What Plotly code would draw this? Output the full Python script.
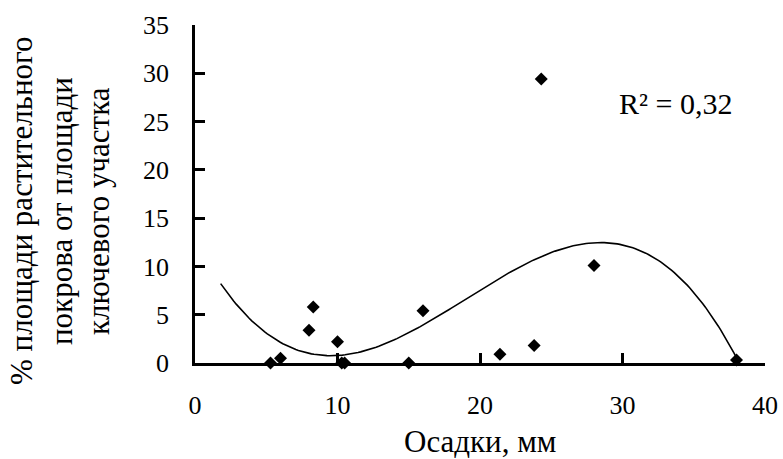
import numpy as np
import plotly.graph_objects as go

# Data
precip_mm = [5.3, 6.0, 8.0, 8.3, 10.0, 10.3, 10.5, 15.0, 16.0, 21.4, 23.8, 24.3, 28.0, 38.0]
veg_pct = [0.0, 0.5, 3.4, 5.8, 2.2, 0.0, 0.0, 0.0, 5.4, 0.9, 1.8, 29.4, 10.1, 0.3]
x_ticks = [0, 10, 20, 30, 40]
y_ticks = [0, 5, 10, 15, 20, 25, 30, 35]
trend_start = 1.8
r2_label = "R² = 0,32"
x_title = "Осадки, мм"
y_title_lines = ["% площади растительного", "покрова от площади", "ключевого участка"]

FONT = "'Liberation Serif', 'Times New Roman', Times, serif"

coef = np.polyfit(precip_mm, veg_pct, 3)
xs = np.linspace(trend_start, max(precip_mm), 200)
ys = np.polyval(coef, xs)

fig = go.Figure()
fig.add_trace(go.Scatter(x=xs, y=ys, mode="lines",
                         line=dict(color="black", width=1.6),
                         hoverinfo="skip", showlegend=False))
fig.add_trace(go.Scatter(x=precip_mm, y=veg_pct, mode="markers",
                         marker=dict(symbol="diamond", color="black", size=10),
                         cliponaxis=False, showlegend=False))

axis_common = dict(showline=True, linecolor="black", linewidth=2.5,
                   ticks="inside", ticklen=10, tickwidth=2.5, tickcolor="black",
                   showgrid=False, zeroline=False, automargin=False,
                   tickfont=dict(family=FONT, size=26, color="black"))

fig.update_xaxes(range=[0, 40], tickvals=x_ticks, ticklabelstandoff=17, **axis_common)
fig.update_yaxes(range=[0, 35], tickvals=y_ticks, ticklabelstandoff=18, **axis_common)

annotations = []
line_px = [22, 62, 99]
for txt, px in zip(y_title_lines, line_px):
    annotations.append(dict(text=txt, xref="paper", yref="paper",
                            x=(px - 195) / 570, y=(363 - 211) / 338,
                            xanchor="center", yanchor="middle", textangle=-90,
                            showarrow=False,
                            font=dict(family=FONT, size=31, color="black")))
annotations.append(dict(text=x_title, xref="paper", yref="paper",
                        x=0.5, y=(363 - 441) / 338, xanchor="center", yanchor="middle",
                        showarrow=False, font=dict(family=FONT, size=31, color="black")))
annotations.append(dict(text=r2_label, xref="x", yref="y", x=29.6, y=26.9,
                        xanchor="left", yanchor="middle", showarrow=False,
                        font=dict(family=FONT, size=30, color="black")))

fig.update_layout(width=783, height=459,
                  margin=dict(l=195, r=18, t=25, b=96),
                  paper_bgcolor="white", plot_bgcolor="white",
                  annotations=annotations,
                  font=dict(family=FONT, color="black"))

fig.write_html("out.html", config={"displayModeBar": False},
               post_script="document.body.style.margin='0';")
